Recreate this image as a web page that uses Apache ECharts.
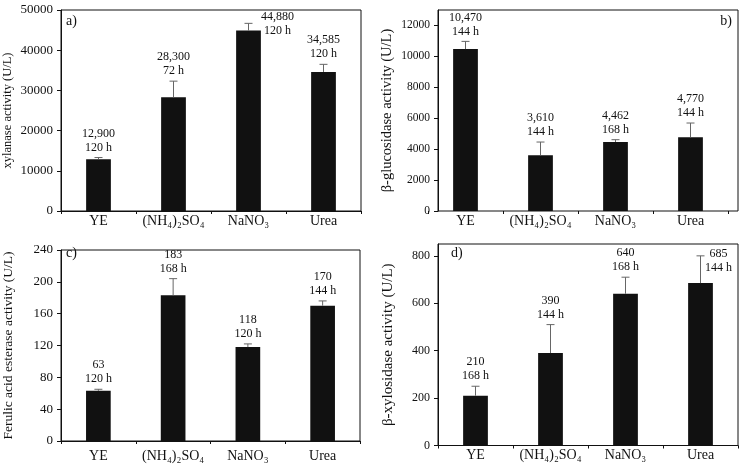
<!DOCTYPE html>
<html>
<head>
<meta charset="utf-8">
<script src="https://cdn.jsdelivr.net/npm/echarts@6/dist/echarts.min.js"></script>
<style>html,body{margin:0;padding:0;background:#fff}#c{width:743px;height:475px}</style>
</head>
<body>
<div id="c"></div>
<script>
// ---- data ----
const categories = ['YE', '(NH₄)₂SO₄', 'NaNO₃', 'Urea'];

const xylanase = [12900, 28300, 44880, 34585];
const xylanaseErr = [400, 4000, 1800, 1900];
const xylanaseTime = ['120 h', '72 h', '120 h', '120 h'];
const xylanaseTicks = [0, 10000, 20000, 30000, 40000, 50000];

const glucosidase = [10470, 3610, 4462, 4770];
const glucosidaseErr = [500, 850, 150, 920];
const glucosidaseTime = ['144 h', '144 h', '168 h', '144 h'];
const glucosidaseTicks = [0, 2000, 4000, 6000, 8000, 10000, 12000];
const glucosidaseMax = 13000;

const ferulic = [63, 183, 118, 170];
const ferulicErr = [2, 21, 4, 6];
const ferulicTime = ['120 h', '168 h', '120 h', '144 h'];
const ferulicTicks = [0, 40, 80, 120, 160, 200, 240];

const xylosidase = [210, 390, 640, 685];
const xylosidaseErr = [40, 120, 70, 115];
const xylosidaseTime = ['168 h', '144 h', '168 h', '144 h'];
const xylosidaseTicks = [0, 200, 400, 600, 800];
const xylosidaseMax = 850;

// ---- layout / style ----
const FONT = '"Liberation Serif", "Times New Roman", serif';
const panels = [
  { name: 'xylanase activity (U/L)', vals: xylanase, err: xylanaseErr, time: xylanaseTime,
    ticks: xylanaseTicks, max: 50000, grid: { left: 61, top: 10, width: 300, height: 201 },
    yOffset: 0, nameSize: 12.5, nameGap: 47, tickSize: 13, catMargin: 3,
    shift: { 2: [29, 17] } },
  { name: 'β-glucosidase activity (U/L)', vals: glucosidase, err: glucosidaseErr, time: glucosidaseTime,
    ticks: glucosidaseTicks, max: glucosidaseMax, grid: { left: 428, top: 10, width: 300, height: 201 },
    yOffset: -10, nameSize: 14.5, nameGap: 43, tickSize: 11.5, catMargin: 3,
    box: { x: 438, y: 10, width: 300, height: 201 }, shift: {} },
  { name: 'Ferulic acid esterase activity (U/L)', vals: ferulic, err: ferulicErr, time: ferulicTime,
    ticks: ferulicTicks, max: 240, grid: { left: 61, top: 250, width: 299, height: 191 },
    yOffset: 0, nameSize: 13.5, nameGap: 46, tickSize: 13, catMargin: 8, shift: {} },
  { name: 'β-xylosidase activity (U/L)', vals: xylosidase, err: xylosidaseErr, time: xylosidaseTime,
    ticks: xylosidaseTicks, max: xylosidaseMax, grid: { left: 438, top: 244, width: 300, height: 201.5 },
    yOffset: 0, nameSize: 15, nameGap: 42, tickSize: 12, catMargin: 3,
    shift: { 3: [18, 22] } }
];

const fmt = v => v >= 1000 ? v.toLocaleString('en-US') : String(v);

const grids = [], xAxes = [], yAxes = [], series = [], graphics = [];
panels.forEach((p, i) => {
  grids.push(Object.assign({ show: !p.box, borderColor: '#111', borderWidth: 1, containLabel: false }, p.grid));
  if (p.box) {
    graphics.push({ type: 'rect', shape: p.box, style: { fill: 'none', stroke: '#111', lineWidth: 1 }, z: 10 });
  }
  xAxes.push({
    type: 'category', gridIndex: i, data: categories, boundaryGap: true,
    axisLine: { show: !p.box, lineStyle: { color: '#111', width: 1 } },
    axisTick: { show: true, length: 3, lineStyle: { color: '#111' } },
    axisLabel: { interval: 0, fontFamily: FONT, fontSize: 14, color: '#111', margin: p.catMargin }
  });
  yAxes.push({
    type: 'value', gridIndex: i, position: 'left', min: p.ticks[0], max: p.max,
    interval: p.ticks[1] - p.ticks[0], offset: p.yOffset,
    name: p.name, nameLocation: 'middle', nameGap: p.nameGap,
    nameTextStyle: { fontFamily: FONT, fontSize: p.nameSize, color: '#111' },
    axisLine: { show: true, lineStyle: { color: '#111', width: 1 } },
    axisTick: { show: true, length: 4, lineStyle: { color: '#111' } },
    axisLabel: { fontFamily: FONT, fontSize: p.tickSize, color: '#111', margin: 8,
      formatter: v => String(v),
      showMaxLabel: p.max === p.ticks[p.ticks.length - 1] },
    splitLine: { show: false }
  });
  series.push({
    type: 'bar', xAxisIndex: i, yAxisIndex: i, data: p.vals, barWidth: '33%',
    itemStyle: { color: '#111' }, silent: true
  });
  series.push({
    type: 'custom', xAxisIndex: i, yAxisIndex: i, z: 5, silent: true,
    data: p.vals.map((v, k) => [k, v, p.err[k]]),
    renderItem: function (params, api) {
      const k = api.value(0), v = api.value(1), e = api.value(2);
      const base = api.coord([k, v]);
      const top = api.coord([k, v + e]);
      const x = base[0];
      const s = p.shift[k] || [0, 0];
      return {
        type: 'group', children: [
          { type: 'line', shape: { x1: x, y1: base[1], x2: x, y2: top[1] }, style: { stroke: '#666', lineWidth: 1 } },
          { type: 'line', shape: { x1: x - 4, y1: top[1], x2: x + 4, y2: top[1] }, style: { stroke: '#666', lineWidth: 1 } },
          { type: 'text', x: x + s[0], y: top[1] - 3 + s[1],
            style: { text: fmt(v) + '\n' + p.time[k], align: 'center', verticalAlign: 'bottom',
              fontFamily: FONT, fontSize: 12, lineHeight: 14, fill: '#111' } }
        ]
      };
    }
  });
});

const titles = [
  { text: 'a)', left: 66, top: 14 },
  { text: 'b)', right: 11, top: 14 },
  { text: 'c)', left: 66, top: 246 },
  { text: 'd)', left: 451, top: 246 }
].map(t => Object.assign({ padding: 0, textStyle: { fontFamily: FONT, fontSize: 14, fontWeight: 'normal', color: '#111' } }, t));

const chart = echarts.init(document.getElementById('c'), null, { renderer: 'canvas' });
chart.setOption({
  animation: false,
  backgroundColor: '#fff',
  title: titles,
  grid: grids,
  xAxis: xAxes,
  yAxis: yAxes,
  series: series,
  graphic: graphics
});
</script>
</body>
</html>
